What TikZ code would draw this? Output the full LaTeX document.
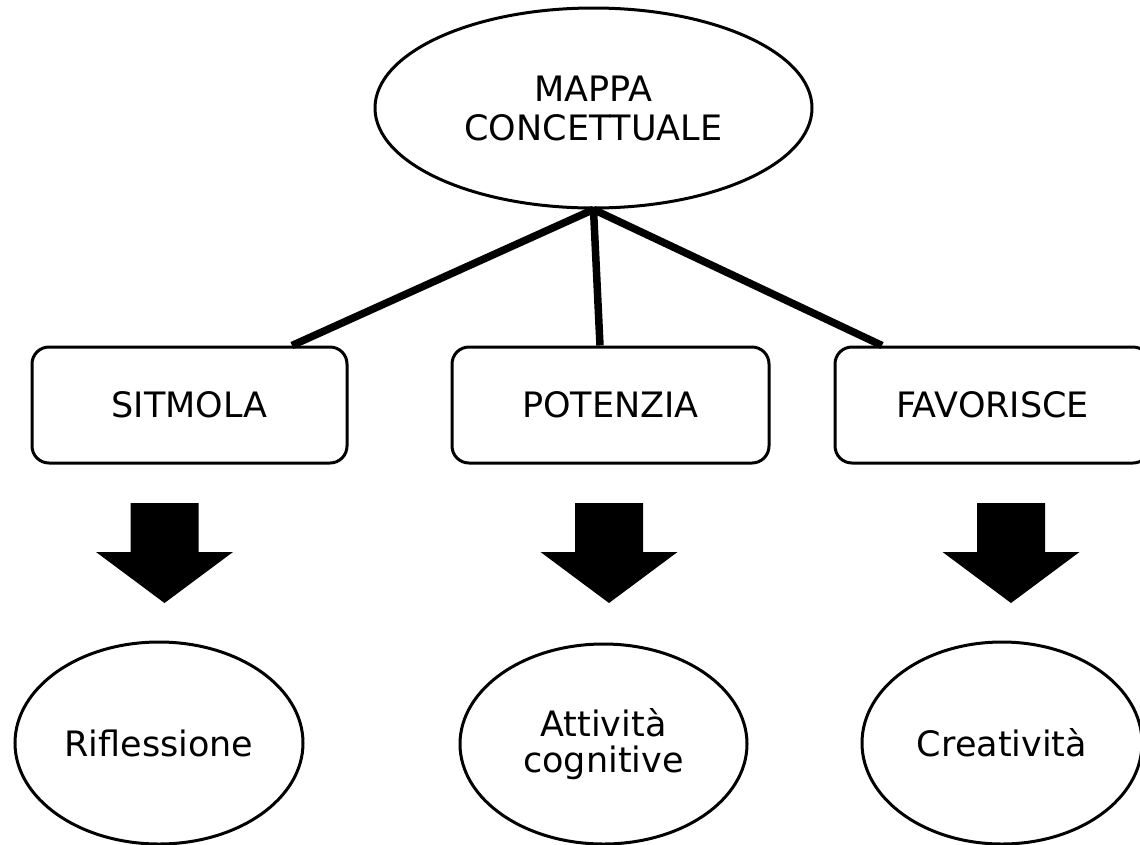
\documentclass[tikz,border=0pt]{standalone}
\usepackage{fontspec}
\setmainfont{DejaVu Sans}
\usetikzlibrary{shapes.geometric,calc}
\tikzset{
  txt/.style={font=\fontsize{35}{39}\selectfont, text=black, align=center},
  oval/.style={ellipse, draw=black, line width=3pt, fill=white, inner sep=0pt, txt},
  verb/.style={rectangle, rounded corners=17pt, draw=black, line width=3pt, fill=white,
    minimum width=315pt, minimum height=116pt, inner sep=0pt, txt},
  link/.style={draw=black, line width=7.5pt},
  pics/blockarrow/.style={code={
    \fill[black] (-34,0) -- (34,0) -- (34,49) -- (68.5,49) -- (0,100) -- (-68.5,49) -- (-34,49) -- cycle;
  }}
}
\begin{document}
\begin{tikzpicture}[x=1pt,y=-1pt]
\useasboundingbox (0,0) rectangle (1140,844);
\fill[white] (0,0) rectangle (1140,844);
\clip (0,0) rectangle (1140,844);

% top concept
\node[oval, minimum width=437pt, minimum height=200pt] (main) at (593.5,108) {MAPPA\\CONCETTUALE};

% verb boxes
\node[verb] (b1) at (189.5,405) {SITMOLA};
\node[verb, minimum width=317pt] (b2) at (610.5,405) {POTENZIA};
\node[verb] (b3) at (992.5,405) {FAVORISCE};

% connectors
\draw[link] (main.south) -- ($(b1.north)+(102.5,0)$);
\draw[link] (main.south) -- ($(b2.north)+(-10.5,0)$);
\draw[link] (main.south) -- ($(b3.north)+(-110.5,0)$);

% block arrows
\pic (a1) at (164.5,503) {blockarrow};
\pic (a2) at (609,503) {blockarrow};
\pic (a3) at (1011,503) {blockarrow};

% results
\node[oval, minimum width=288pt, minimum height=202pt] (r1) at (159,743) {Riflessione};
\node[oval, minimum width=287pt, minimum height=200pt, font=\fontsize{35}{36}\selectfont] (r2) at (603.5,744) {Attività\\cognitive};
\node[oval, minimum width=280pt, minimum height=202pt] (r3) at (1002,743) {Creatività};
\end{tikzpicture}
\end{document}
